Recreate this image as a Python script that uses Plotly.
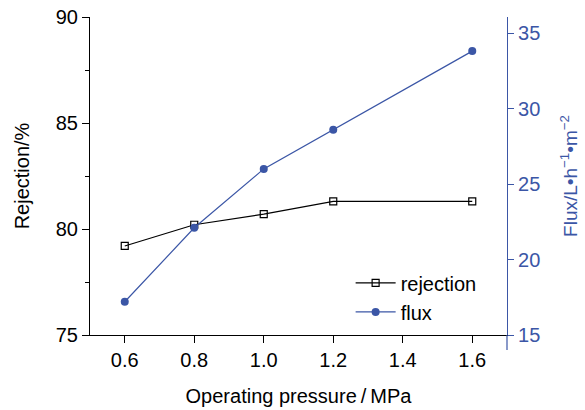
import plotly.graph_objects as go

# Operating pressure (MPa) and measured performance
pressure = [0.6, 0.8, 1.0, 1.2, 1.6]
rejection = [79.2, 80.2, 80.7, 81.3, 81.3]
flux = [17.2, 22.1, 26.0, 28.6, 33.8]

x_ticks = [0.6, 0.8, 1.0, 1.2, 1.4, 1.6]
rej_ticks = [75, 80, 85, 90]
flux_ticks = [15, 20, 25, 30, 35]

BLUE = "#3b56a6"
FONT = "Liberation Sans, Arial, sans-serif"
FS = 20

fig = go.Figure()

fig.add_trace(go.Scatter(
    x=pressure, y=rejection, name="rejection", mode="lines+markers",
    line=dict(color="black", width=1.2),
    marker=dict(symbol="square-open", size=7, color="black", line=dict(width=1.2)),
))
fig.add_trace(go.Scatter(
    x=pressure, y=flux, name="flux", mode="lines+markers", yaxis="y2",
    line=dict(color=BLUE, width=1.2),
    marker=dict(symbol="circle", size=8, color=BLUE),
))

fig.update_layout(
    width=585, height=410,
    margin=dict(l=90, r=78, t=17, b=75),
    paper_bgcolor="white", plot_bgcolor="white",
    font=dict(family=FONT, size=FS, color="black"),
    showlegend=True,
    legend=dict(x=0.625, y=0.225, xanchor="left", yanchor="top",
                bgcolor="rgba(0,0,0,0)", font=dict(size=FS),
                tracegroupgap=0, itemwidth=40),
    xaxis=dict(
        range=[0.5, 1.7], tickvals=x_ticks,
        ticktext=[f"{v:.1f}" for v in x_ticks],
        showgrid=False, zeroline=False, automargin=False,
        showline=True, linecolor="black", linewidth=1.2,
        ticks="outside", ticklen=7, tickwidth=1.2, tickcolor="black",
        tickfont=dict(size=FS),
        title=dict(text="Operating pressure\u2009/\u2009MPa", font=dict(size=FS), standoff=18),
    ),
    yaxis=dict(
        range=[75, 90], tickvals=rej_ticks,
        showgrid=False, zeroline=False, automargin=False,
        showline=True, linecolor="black", linewidth=1.2,
        ticks="outside", ticklen=7, tickwidth=1.2, tickcolor="black",
        tickfont=dict(size=FS),
        minor=dict(dtick=2.5, tick0=75, ticks="outside", ticklen=4,
                   tickwidth=1.2, tickcolor="black", showgrid=False),
        title=dict(text="Rejection/%", font=dict(size=FS), standoff=20),
    ),
    yaxis2=dict(
        overlaying="y", side="right",
        range=[15, 15 + 20 * 318 / 302], tickvals=flux_ticks,
        showgrid=False, zeroline=False, automargin=False,
        showline=True, linecolor=BLUE, linewidth=1.2,
        ticks="outside", ticklen=6, tickwidth=1.2, tickcolor=BLUE,
        tickfont=dict(color=BLUE, size=FS),
        title=dict(text="Flux/L\u2022h<sup>\u22121</sup>\u2022m<sup>\u22122</sup>",
                   font=dict(color=BLUE, size=19), standoff=24),
    ),
    shapes=[dict(type="line", xref="paper", yref="paper",
                 x0=1, x1=1, y0=-15 / 318, y1=0,
                 line=dict(color=BLUE, width=1.2))],
)

fig.write_html("out.html")
